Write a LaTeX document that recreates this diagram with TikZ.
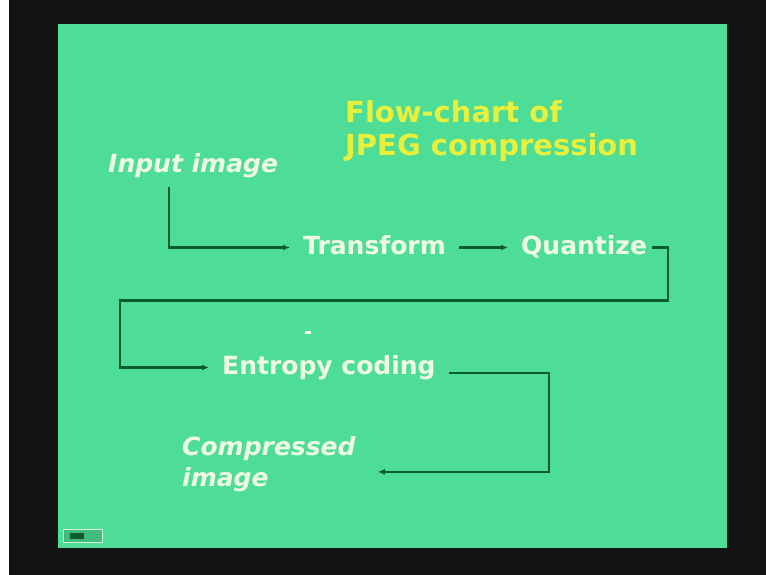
\documentclass[tikz,border=0pt]{standalone}
\usepackage{fontspec}
\setmainfont{DejaVu Sans}
\usepackage{xcolor}
\usetikzlibrary{arrows.meta,positioning}

\definecolor{slidegreen}{HTML}{4DDD96}
\definecolor{framebk}{HTML}{131311}
\definecolor{linegreen}{HTML}{0B5A30}
\definecolor{labeltext}{HTML}{F0F8E6}
\definecolor{titleyellow}{HTML}{E9F03C}

\begin{document}
\begin{tikzpicture}[x=1pt,y=-1pt]

	\tikzset{%
		lbl/.style   = {inner xsep=13pt, inner ysep=2pt, text=labeltext,
			font=\bfseries\fontsize{25}{31}\selectfont,
			text height=19pt, text depth=6pt}, % Beschriftung
		ital/.style  = {lbl, font=\bfseries\itshape\fontsize{25}{31}\selectfont},
		flow/.style  = {draw=linegreen, line width=2.2pt,
			-{Latex[length=7pt,width=6pt]}} % Pfeil
	}

	% Folie
	\useasboundingbox (0,0) rectangle (766,575);
	\fill[white] (0,0) rectangle (766,575);
	\fill[framebk] (9,0) rectangle (766,575);
	\fill[slidegreen] (58,24) rectangle (727,548);

	\node[anchor=north west, inner sep=0, align=left, text=titleyellow,
		font=\bfseries\fontsize{29}{33}\selectfont] (title) at (345,100) {Flow-chart of\\JPEG compression};

	\node[ital, anchor=west] (input) at (95,165.5) {Input image};
	\node[lbl, anchor=west] (transform) at (290,247.5) {Transform};
	\node[lbl, right=49pt of transform] (quant) {Quantize};
	\node[lbl, anchor=west] (entropy) at (209,367.5) {Entropy coding};
	\node[ital, anchor=north west, align=left, text height=, text depth=] (comp) at (169,434) {Compressed\\image};

	% Pfeile
	\draw[flow] ([xshift=74pt,yshift=-7pt]input.south west) |- (transform);
	\draw[flow] (transform) -- (quant);
	\draw[flow] ([xshift=-8pt]quant.east) -- ++(16,0) |- ++(-548,53) |- (entropy);
	\draw[flow] ([yshift=-5.5pt]entropy.east) -- ++(100,0) |- ([xshift=9pt,yshift=-8pt]comp.east);

	% Kleinkram
	\fill[labeltext] (305,331) rectangle (311,334);
	\draw[draw=labeltext!80!slidegreen, line width=1pt, fill=slidegreen!85!black] (63,529) rectangle (102,542);
	\fill[linegreen] (70,533) rectangle (84,539);
\end{tikzpicture}
\end{document}
